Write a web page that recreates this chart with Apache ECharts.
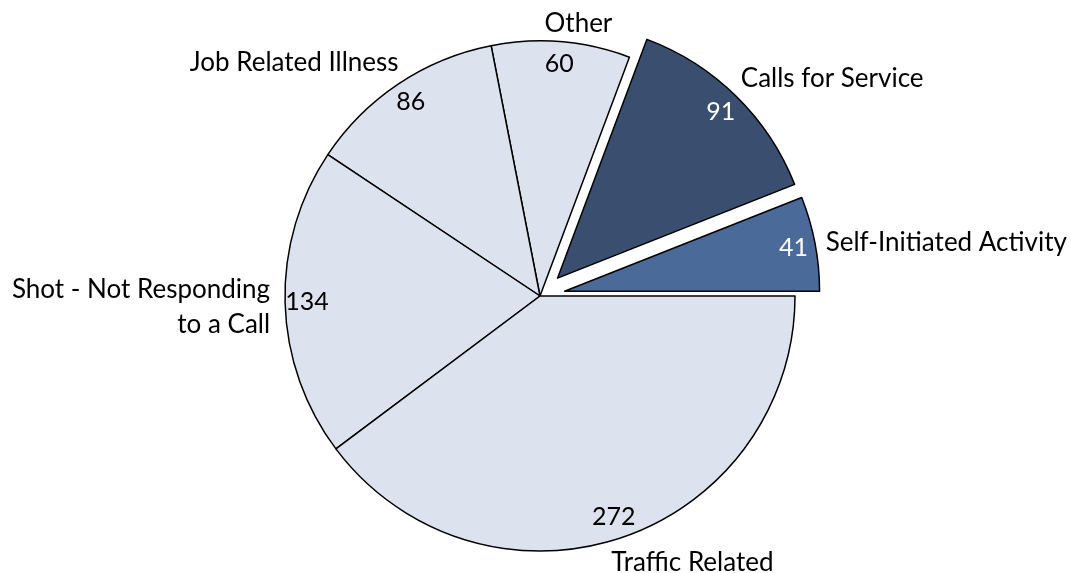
<!DOCTYPE html>
<html>
<head>
<meta charset="utf-8">
<script src="https://cdn.jsdelivr.net/npm/echarts@6/dist/echarts.min.js"></script>
<style>
html,body{margin:0;padding:0;background:#fff;}
#chart{width:1071px;height:573px;}
</style>
</head>
<body>
<div id="chart"></div>
<script>
const categories = ["Self-Initiated Activity", "Calls for Service", "Other", "Job Related Illness", "Shot - Not Responding\nto a Call", "Traffic Related"];
const values = [41, 91, 60, 86, 134, 272];
const exploded = [true, true, false, false, false, false];

// styling
const fills = ["#4a6a9a", "#3a4f6f", "#dde3ee", "#dde3ee", "#dde3ee", "#dde3ee"];
const valueColors = ["#ffffff", "#ffffff", "#000000", "#000000", "#000000", "#000000"];
const nameNudge = [[-7, 2], [-8, -5], [-18, 0], [10, -6], [3, 4], [-15, 8]];
const FONT = "Lato, 'Open Sans', sans-serif";

const chart = echarts.init(document.getElementById('chart'), null, {renderer: 'canvas'});

const mainData = categories.map((c, i) => ({
  name: c, value: values[i], selected: exploded[i],
  itemStyle: {color: fills[i], borderColor: '#000', borderWidth: 1.5}
}));
const valueData = categories.map((c, i) => ({
  name: c, value: values[i], selected: exploded[i],
  label: {color: valueColors[i]}
}));

chart.setOption({
  animation: false,
  series: [
    {
      type: 'pie', center: [540, 296], radius: 255,
      clockwise: false, startAngle: 0,
      selectedMode: 'multiple', selectedOffset: 25,
      avoidLabelOverlap: false, silent: true,
      emphasis: {disabled: true},
      label: {show: true, position: 'outside', formatter: '{b}', fontFamily: FONT, fontSize: 26, color: '#000', lineHeight: 35, distanceToLabelLine: 0},
      labelLine: {show: false, length: 18, length2: 0},
      labelLayout: (p) => ({dx: nameNudge[p.dataIndex][0], dy: nameNudge[p.dataIndex][1]}),
      data: mainData
    },
    {
      type: 'pie', center: [540, 296], radius: [205, 255],
      clockwise: false, startAngle: 0,
      selectedMode: 'multiple', selectedOffset: 25,
      avoidLabelOverlap: false, silent: true,
      emphasis: {disabled: true},
      itemStyle: {color: 'rgba(0,0,0,0)', borderWidth: 0},
      label: {show: true, position: 'inside', formatter: '{c}', fontFamily: FONT, fontSize: 25},
      labelLine: {show: false},
      data: valueData
    }
  ]
});
</script>
</body>
</html>
